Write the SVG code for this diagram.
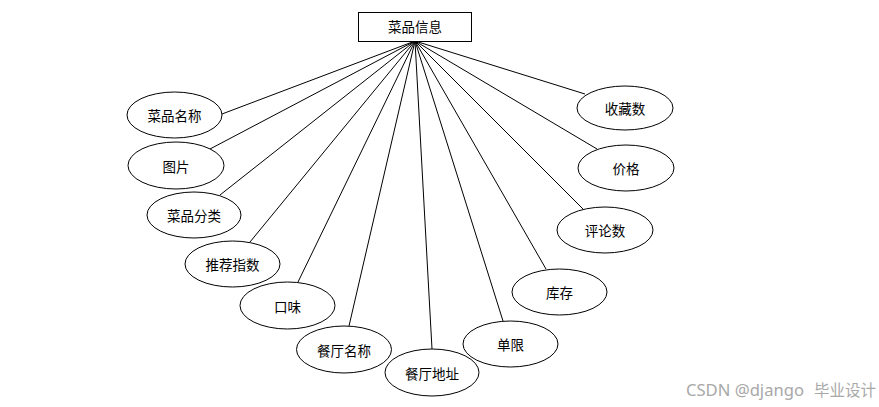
<svg xmlns="http://www.w3.org/2000/svg" width="879" height="407" viewBox="0 0 879 407">
<style>
.n ellipse,.n rect{fill:#fff;stroke:#000;stroke-width:1}
.n text{font-family:"Noto Sans CJK SC","Microsoft YaHei",sans-serif;font-size:13.5px;fill:#000;text-anchor:middle;dominant-baseline:central}
#edges line{stroke:#000;stroke-width:1}
.wm{font-family:"Noto Sans","Noto Sans CJK SC",sans-serif;font-size:15.5px;fill:#a8a8a8}
</style>
<rect width="879" height="407" fill="#fff"/>
<g id="edges">
<line x1="415" y1="41" x2="222" y2="114"/>
<line x1="415" y1="41" x2="210" y2="149"/>
<line x1="415" y1="41" x2="220" y2="195"/>
<line x1="415" y1="41" x2="250" y2="242"/>
<line x1="415" y1="41" x2="298" y2="282"/>
<line x1="415" y1="41" x2="349" y2="326"/>
<line x1="415" y1="41" x2="432" y2="349"/>
<line x1="415" y1="41" x2="503" y2="321"/>
<line x1="415" y1="41" x2="546" y2="269"/>
<line x1="415" y1="41" x2="583" y2="209"/>
<line x1="415" y1="41" x2="597" y2="149"/>
<line x1="415" y1="41" x2="585" y2="94"/>
</g>
<g id="root" class="n"><rect x="358.5" y="12.5" width="113" height="29"/><text x="415" y="26">菜品信息</text></g>
<g id="n1" class="n"><ellipse cx="174.5" cy="115" rx="47.5" ry="23"/><text x="174.5" y="115">菜品名称</text></g>
<g id="n2" class="n"><ellipse cx="176" cy="165.5" rx="48" ry="23.5"/><text x="176" y="165.5">图片</text></g>
<g id="n3" class="n"><ellipse cx="194" cy="215" rx="47" ry="23"/><text x="194" y="215">菜品分类</text></g>
<g id="n4" class="n"><ellipse cx="232.5" cy="264" rx="47.5" ry="23"/><text x="232.5" y="264">推荐指数</text></g>
<g id="n5" class="n"><ellipse cx="287.5" cy="305.5" rx="47.5" ry="23.5"/><text x="287.5" y="305.5">口味</text></g>
<g id="n6" class="n"><ellipse cx="344" cy="349.5" rx="47.5" ry="23.5"/><text x="344" y="349.5">餐厅名称</text></g>
<g id="n7" class="n"><ellipse cx="432" cy="372.5" rx="47" ry="23.5"/><text x="432" y="372.5">餐厅地址</text></g>
<g id="n8" class="n"><ellipse cx="510.5" cy="344" rx="47.5" ry="23"/><text x="510.5" y="344">单限</text></g>
<g id="n9" class="n"><ellipse cx="559.5" cy="292" rx="47.5" ry="23"/><text x="559.5" y="292">库存</text></g>
<g id="n10" class="n"><ellipse cx="605" cy="230" rx="48" ry="23"/><text x="605" y="230">评论数</text></g>
<g id="n11" class="n"><ellipse cx="626" cy="168" rx="48" ry="23"/><text x="626" y="168">价格</text></g>
<g id="n12" class="n"><ellipse cx="625" cy="108" rx="48" ry="22"/><text x="625" y="108">收藏数</text></g>
<text class="wm" x="686" y="396" textLength="118" lengthAdjust="spacingAndGlyphs">CSDN @django</text>
<text class="wm" x="814" y="396" textLength="62" lengthAdjust="spacingAndGlyphs">毕业设计</text>
</svg>
